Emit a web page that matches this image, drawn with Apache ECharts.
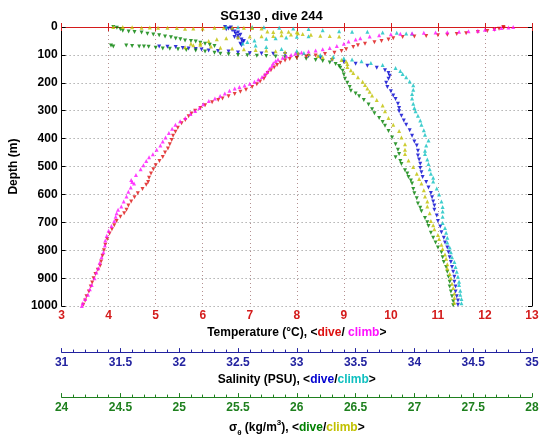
<!DOCTYPE html>
<html>
<head>
<meta charset="utf-8">
<script src="https://cdn.jsdelivr.net/npm/echarts@6/dist/echarts.min.js"></script>
<style>html,body{margin:0;padding:0;background:#fff;}#c{width:543px;height:442px;}</style>
</head>
<body>
<div id="c"></div>
<script>
// ---- data: [value, depth(m)] ----
const tempTicks = [3,4,5,6,7,8,9,10,11,12,13];
const salTicks = [31,31.5,32,32.5,33,33.5,34,34.5,35];
const sigTicks = [24,24.5,25,25.5,26,26.5,27,27.5,28];
const depthTicks = [0,100,200,300,400,500,600,700,800,900,1000];

const tempDive = [[12.39,0],[12.4,3],[12.3,6],[12.2,10],[12.05,14],[11.85,18],[11.6,22],[11.4,25],[11.2,28],[11.0,30],[10.75,32],[10.5,34],[10.25,36],[10.05,40],[9.95,45],[9.8,50],[9.65,55],[9.45,60],[9.3,65],[9.2,72],[9.05,80],[8.95,86],[8.8,92],[8.6,97],[8.4,102],[8.2,106],[8.0,110],[7.85,115],[7.75,120],[7.65,128],[7.58,136],[7.52,145],[7.45,155],[7.38,165],[7.33,175],[7.3,185],[7.22,195],[7.15,205],[7.05,215],[6.92,225],[6.8,232],[6.68,240],[6.55,248],[6.42,256],[6.33,262],[6.2,270],[6.05,280],[5.95,290],[5.84,300],[5.76,310],[5.7,320],[5.63,333],[5.55,345],[5.47,361],[5.42,375],[5.37,390],[5.34,405],[5.3,420],[5.26,435],[5.2,450],[5.15,466],[5.08,480],[5.0,495],[4.95,510],[4.9,525],[4.86,540],[4.84,555],[4.8,565],[4.72,580],[4.62,596],[4.55,610],[4.48,625],[4.42,640],[4.38,655],[4.33,667],[4.25,680],[4.17,695],[4.12,710],[4.07,725],[4.02,740],[3.97,760],[3.93,780],[3.9,800],[3.87,820],[3.84,840],[3.82,855],[3.77,870],[3.72,885],[3.68,900],[3.65,915],[3.62,930],[3.58,948],[3.53,965],[3.5,980],[3.46,995]];
const tempClimb = [[12.6,0],[12.5,2],[12.35,4],[12.2,7],[12.0,10],[11.85,13],[11.65,15],[11.45,17],[11.2,19],[10.95,20],[10.7,21],[10.45,22],[10.2,24],[10.0,26],[9.75,30],[9.55,34],[9.35,40],[9.25,45],[9.1,52],[9.0,60],[8.85,68],[8.7,75],[8.55,80],[8.4,84],[8.25,88],[8.1,91],[7.97,95],[7.88,100],[7.78,105],[7.7,110],[7.6,116],[7.55,122],[7.5,130],[7.47,140],[7.42,150],[7.37,161],[7.32,170],[7.26,179],[7.18,188],[7.1,196],[7.0,203],[6.89,210],[6.78,215],[6.68,220],[6.57,228],[6.47,238],[6.37,247],[6.26,256],[6.13,265],[6.01,277],[5.93,290],[5.84,301],[5.74,312],[5.63,326],[5.52,338],[5.42,350],[5.35,365],[5.28,380],[5.21,396],[5.15,410],[5.1,425],[5.02,440],[4.94,456],[4.86,467],[4.8,480],[4.74,495],[4.68,510],[4.58,530],[4.48,548],[4.5,555],[4.54,561],[4.47,575],[4.42,590],[4.38,607],[4.32,625],[4.27,643],[4.2,655],[4.17,667],[4.15,680],[4.12,695],[4.06,713],[4.0,730],[3.96,748],[3.93,765],[3.92,783],[3.89,807],[3.85,825],[3.81,845],[3.78,864],[3.74,880],[3.7,900],[3.64,924],[3.6,940],[3.56,959],[3.5,975],[3.45,990],[3.43,1000]];

const salDive = [[32.39,0],[32.44,2],[32.42,5],[32.4,8],[32.45,12],[32.47,16],[32.5,20],[32.48,24],[32.52,28],[32.5,32],[32.47,36],[32.5,40],[32.53,45],[32.55,50],[32.54,55],[32.52,60],[32.53,65],[31.83,70],[31.9,71],[31.97,72],[32.03,75],[32.08,77],[32.14,79],[32.19,81],[32.25,84],[32.33,86],[32.42,88],[32.5,91],[32.6,94],[32.7,95],[32.8,96],[32.9,97],[33.01,99],[33.1,104],[33.2,110],[33.3,118],[33.4,125],[33.5,132],[33.6,139],[33.68,146],[33.75,155],[33.78,165],[33.79,175],[33.78,185],[33.76,200],[33.77,215],[33.8,230],[33.82,245],[33.84,258],[33.86,275],[33.87,290],[33.87,302],[33.89,318],[33.91,335],[33.93,350],[33.96,370],[33.98,390],[34.0,410],[34.02,425],[34.03,443],[34.03,460],[34.04,475],[34.05,490],[34.05,505],[34.06,520],[34.07,537],[34.1,555],[34.12,575],[34.14,595],[34.15,610],[34.16,625],[34.17,640],[34.17,655],[34.19,675],[34.2,695],[34.22,715],[34.23,735],[34.25,755],[34.26,772],[34.28,790],[34.29,807],[34.3,825],[34.31,842],[34.32,860],[34.33,877],[34.34,895],[34.34,913],[34.35,930],[34.35,948],[34.36,965],[34.37,980],[34.37,995]];
const salClimb = [[32.4,0],[32.5,1],[32.62,0],[32.72,1],[32.85,3],[32.97,5],[33.1,7],[33.22,12],[33.36,15],[33.47,17],[33.6,17],[33.73,20],[33.85,21],[33.93,23],[33.98,24],[33.1,33],[33.0,35],[32.91,38],[32.82,40],[32.74,42],[32.64,48],[32.58,54],[32.54,59],[32.65,66],[32.74,72],[32.87,79],[33.0,86],[33.06,93],[33.2,100],[33.31,107],[33.4,112],[33.47,116],[33.55,123],[33.63,129],[33.73,136],[33.84,147],[33.88,158],[33.9,168],[33.93,180],[33.96,195],[33.99,209],[33.99,225],[33.98,240],[33.98,256],[33.99,275],[34.0,290],[34.01,302],[34.03,318],[34.05,335],[34.06,350],[34.08,370],[34.09,386],[34.12,407],[34.1,425],[34.09,443],[34.09,455],[34.11,475],[34.12,491],[34.13,510],[34.14,526],[34.16,540],[34.16,554],[34.19,579],[34.21,600],[34.23,625],[34.24,645],[34.24,661],[34.24,680],[34.24,702],[34.26,720],[34.27,737],[34.28,755],[34.28,772],[34.3,790],[34.31,807],[34.32,825],[34.34,842],[34.35,860],[34.36,877],[34.37,895],[34.38,913],[34.38,924],[34.39,945],[34.39,959],[34.4,975],[34.4,990]];

const sigDive = [[24.44,0],[24.47,3],[24.5,8],[24.52,13],[24.57,16],[24.62,18],[24.68,20],[24.73,24],[24.78,27],[24.83,30],[24.88,34],[24.93,37],[24.97,41],[25.01,44],[25.05,48],[25.1,50],[25.14,52],[25.18,56],[25.22,60],[25.26,64],[25.3,68],[24.42,66],[24.44,70],[24.55,66],[24.6,68],[24.66,70],[24.7,70],[24.74,71],[24.8,74],[24.86,77],[24.92,78],[24.99,80],[25.06,82],[25.14,84],[25.22,88],[25.3,92],[25.35,96],[25.42,98],[25.5,100],[25.58,101],[25.66,103],[25.74,104],[25.82,106],[25.9,108],[26.0,111],[26.08,114],[26.16,118],[26.22,122],[26.28,127],[26.33,133],[26.36,140],[26.37,146],[26.39,157],[26.4,170],[26.41,185],[26.43,200],[26.45,215],[26.46,228],[26.5,238],[26.53,248],[26.57,262],[26.61,278],[26.64,295],[26.66,309],[26.7,326],[26.73,340],[26.75,354],[26.78,373],[26.81,396],[26.84,420],[26.86,440],[26.87,455],[26.84,467],[26.88,480],[26.89,491],[26.92,513],[26.94,525],[26.95,537],[26.97,550],[26.98,561],[26.99,580],[27.0,596],[27.02,614],[27.03,632],[27.05,648],[27.06,660],[27.09,684],[27.11,700],[27.12,713],[27.14,737],[27.16,755],[27.18,772],[27.2,790],[27.23,807],[27.24,825],[27.25,842],[27.27,860],[27.28,877],[27.29,895],[27.3,913],[27.3,930],[27.31,948],[27.32,965],[27.33,983],[27.33,997]];
const sigClimb = [[24.44,0],[24.52,0],[24.6,1],[24.68,3],[24.75,2],[24.82,3],[24.9,3],[24.98,4],[25.05,6],[25.12,5],[25.2,5],[25.3,3],[25.38,3],[25.45,3],[25.55,3],[25.62,4],[25.7,5],[25.75,16],[25.8,18],[25.87,16],[25.93,17],[26.0,19],[26.05,25],[26.12,28],[26.2,31],[26.28,32],[26.36,34],[25.05,73],[25.12,65],[25.18,58],[25.25,50],[25.32,44],[25.4,40],[25.5,37],[25.6,34],[25.7,33],[25.8,32],[25.87,30],[25.95,27],[26.01,22],[25.1,60],[25.18,64],[25.27,70],[25.35,74],[25.45,77],[25.55,80],[25.65,82],[25.74,84],[25.82,87],[25.9,90],[26.01,94],[26.1,98],[26.18,104],[26.22,108],[26.3,113],[26.38,118],[26.42,124],[26.43,133],[26.43,143],[26.46,155],[26.48,165],[26.52,180],[26.56,196],[26.58,208],[26.6,220],[26.62,232],[26.64,245],[26.68,262],[26.73,281],[26.75,302],[26.78,326],[26.82,350],[26.87,373],[26.89,396],[26.92,420],[26.92,440],[26.92,455],[26.95,478],[26.99,502],[27.02,526],[27.04,545],[27.06,561],[27.08,585],[27.09,607],[27.11,625],[27.11,643],[27.13,667],[27.14,695],[27.16,710],[27.17,725],[27.2,745],[27.21,760],[27.23,780],[27.24,795],[27.26,815],[27.27,830],[27.28,850],[27.28,865],[27.3,885],[27.31,900],[27.32,920],[27.33,935],[27.34,955],[27.34,970],[27.34,988]];

const FONT = '"Liberation Sans", Arial, Helvetica, sans-serif';
const RED = '#d41c1c', BLUE = '#2323a0', GREEN = '#1f801f';
const C = {tDive:'#dd1010', tClimb:'#ff10ff', sDive:'#0000d0', sClimb:'#10c0c0', gDive:'#008000', gClimb:'#c0c000'};

function first(a){return a[0];} function last(a){return a[a.length-1];}

const chart = echarts.init(document.getElementById('c'), null, {renderer:'canvas'});
const nameK = {color:'#000', fontWeight:'bold', fontSize:12, fontFamily:FONT, lineHeight:14};
function nk(col){return {color:col, fontWeight:'bold', fontSize:12, fontFamily:FONT, lineHeight:14};}
const plain = v => String(v);

function sc(name, data, xi, color, dive){
  return {name, type:'scatter', xAxisIndex:xi, yAxisIndex:0, data,
    symbol:'triangle', symbolSize:4, symbolRotate: dive?180:0,
    itemStyle:{color}, silent:true, animation:false};
}

chart.setOption({
  animation:false,
  backgroundColor:'#fff',
  title:{text:'SG130 , dive 244', left:'center', top:5,
    textStyle:{fontSize:13, fontWeight:'bold', color:'#000', fontFamily:FONT}},
  grid:{left:54, right:11, top:27, bottom:130, containLabel:false},
  xAxis:[
    {type:'value', position:'bottom', min:first(tempTicks), max:last(tempTicks), interval:1,
     axisLine:{lineStyle:{color:RED, width:1}}, axisTick:{inside:true, length:4, lineStyle:{color:RED}},
     axisLabel:{color:RED, fontWeight:'bold', fontSize:12, fontFamily:FONT, margin:4, formatter:plain},
     splitLine:{show:true, lineStyle:{color:'#b39090', type:[1,3], width:1}},
     name:'{k|Temperature (°C), <}{r|dive}{k|/ }{m|climb}{k|>}', nameLocation:'middle', nameGap:18,
     nameTextStyle:{rich:{k:nameK, r:nk(C.tDive), m:nk(C.tClimb)}}},
    {type:'value', position:'bottom', offset:46, min:first(salTicks), max:last(salTicks), interval:0.5,
     axisLine:{onZero:false, lineStyle:{color:BLUE, width:1}}, axisTick:{inside:true, length:4, lineStyle:{color:BLUE}},
     minorTick:{show:true, splitNumber:5, length:2.5, lineStyle:{color:BLUE}},
     axisLabel:{color:BLUE, fontWeight:'bold', fontSize:12, fontFamily:FONT, margin:5, formatter:plain},
     splitLine:{show:false},
     name:'{k|Salinity (PSU), <}{b|dive}{k|/}{c|climb}{k|>}', nameLocation:'middle', nameGap:19,
     nameTextStyle:{rich:{k:nameK, b:nk(C.sDive), c:nk(C.sClimb)}}},
    {type:'value', position:'bottom', offset:91, min:first(sigTicks), max:last(sigTicks), interval:0.5,
     axisLine:{onZero:false, lineStyle:{color:GREEN, width:1}}, axisTick:{inside:true, length:4, lineStyle:{color:GREEN}},
     minorTick:{show:true, splitNumber:5, length:2.5, lineStyle:{color:GREEN}},
     axisLabel:{color:GREEN, fontWeight:'bold', fontSize:12, fontFamily:FONT, margin:5, formatter:plain},
     splitLine:{show:false},
     name:'{k|σ}{sub|θ}{k| (kg/m}{sup|3}{k|), <}{g|dive}{k|/}{y|climb}{k|>}', nameLocation:'middle', nameGap:16,
     nameTextStyle:{rich:{
       k:{color:'#000', fontWeight:'bold', fontSize:12, fontFamily:FONT, lineHeight:18},
       sub:{color:'#000', fontWeight:'bold', fontSize:8, fontFamily:FONT, lineHeight:10, verticalAlign:'bottom'},
       sup:{color:'#000', fontWeight:'bold', fontSize:8, fontFamily:FONT, lineHeight:10, verticalAlign:'top'},
       g:{color:C.gDive, fontWeight:'bold', fontSize:12, fontFamily:FONT, lineHeight:18},
       y:{color:C.gClimb, fontWeight:'bold', fontSize:12, fontFamily:FONT, lineHeight:18}}}},
    {type:'value', position:'top', min:first(tempTicks), max:last(tempTicks), interval:1,
     axisLine:{lineStyle:{color:RED, width:1}}, axisTick:{inside:true, length:4, lineStyle:{color:RED}},
     axisLabel:{show:false}, splitLine:{show:false}}
  ],
  yAxis:[
    {type:'value', inverse:true, position:'left', min:first(depthTicks), max:last(depthTicks), interval:100,
     axisLine:{lineStyle:{color:'#000', width:1}}, axisTick:{inside:true, length:4, lineStyle:{color:'#000'}},
     axisLabel:{color:'#000', fontWeight:'bold', fontSize:12, fontFamily:FONT, margin:4, formatter:plain},
     splitLine:{show:true, lineStyle:{color:'#8a8a8a', type:[1,3], width:1}},
     name:'Depth (m)', nameLocation:'middle', nameGap:36, nameRotate:90,
     nameTextStyle:{color:'#000', fontWeight:'bold', fontSize:12, fontFamily:FONT}},
    {type:'value', inverse:true, position:'right', min:first(depthTicks), max:last(depthTicks), interval:100,
     axisLine:{lineStyle:{color:'#000', width:1}}, axisTick:{inside:true, length:4, lineStyle:{color:'#000'}},
     axisLabel:{show:false}, splitLine:{show:false}}
  ],
  series:[
    sc('salDive', salDive, 1, C.sDive, true),
    sc('salClimb', salClimb, 1, C.sClimb, false),
    sc('sigDive', sigDive, 2, C.gDive, true),
    sc('sigClimb', sigClimb, 2, C.gClimb, false),
    sc('tempDive', tempDive, 0, C.tDive, true),
    sc('tempClimb', tempClimb, 0, C.tClimb, false)
  ]
});
</script>
</body>
</html>
